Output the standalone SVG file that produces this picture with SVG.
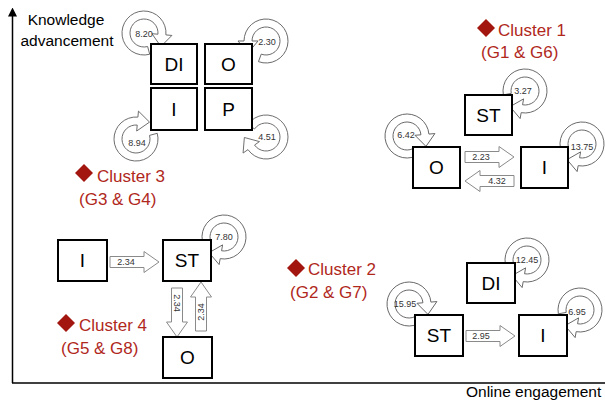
<svg xmlns="http://www.w3.org/2000/svg" xmlns:xlink="http://www.w3.org/1999/xlink" width="605" height="401" viewBox="0 0 605 401">
<style>
.box{fill:#fff;stroke:#000;stroke-width:2}
.bt{font-family:"Liberation Sans",Arial,sans-serif;font-size:19px;fill:#000;text-anchor:middle}
.loop{fill:#fff;stroke:#666;stroke-width:0.9}
.arr{fill:#fff;stroke:#8a8a8a;stroke-width:1}
.lt{font-family:"Liberation Sans",Arial,sans-serif;font-size:9px;fill:#333;text-anchor:middle}
.cl{font-family:"Liberation Sans",Arial,sans-serif;font-size:17px;fill:#b0281c}
.dia{fill:#a3150f}
.ax{font-family:"Liberation Sans",Arial,sans-serif;font-size:15.5px;fill:#000}
</style>
<defs>
<path id="loop" d="M-11,19.05 A22,22 0 1,1 14.14,16.85 L18,21.45 L2.38,21.5 L5.14,6.13 L9,10.72 A14,14 0 1,0 -7,12.12 Z"/>
<path id="barrow" d="M0,-5.5 H34 V-10.5 L49,0 L34,10.5 V5.5 H0 Z"/>
<path id="dia" d="M0,-9 L9,0 L0,9 L-9,0 Z"/>
<marker id="ah" viewBox="0 0 10 10" refX="5" refY="5" markerWidth="6" markerHeight="6" orient="auto-start-reverse">
<path d="M0,0 L10,5 L0,10 Z" fill="#000"/>
</marker>
</defs>
<rect width="605" height="401" fill="#fff"/>
<g id="axes">
<line x1="12.5" y1="383" x2="12.5" y2="12" stroke="#000" stroke-width="1.5" marker-end="url(#ah)"/>
<line x1="12" y1="383" x2="605" y2="383" stroke="#000" stroke-width="1.5"/>
<text class="ax" x="66" y="25" text-anchor="middle">Knowledge</text>
<text class="ax" x="67" y="46" text-anchor="middle">advancement</text>
<text class="ax" x="466" y="397">Online engagement</text>
</g>
<g id="connectors">
<use xlink:href="#loop" class="loop" transform="translate(144,33) rotate(-45)"/>
<use xlink:href="#loop" class="loop" transform="translate(266,41) rotate(50) scale(-1,1)"/>
<use xlink:href="#loop" class="loop" transform="translate(136,139) rotate(-135)"/>
<use xlink:href="#loop" class="loop" transform="translate(266,137) rotate(95)"/>
<use xlink:href="#loop" class="loop" transform="translate(525,91) rotate(50)"/>
<use xlink:href="#loop" class="loop" transform="translate(407,136) rotate(-55)"/>
<use xlink:href="#loop" class="loop" transform="translate(582,144) rotate(50)"/>
<use xlink:href="#loop" class="loop" transform="translate(224,237) rotate(50)"/>
<use xlink:href="#loop" class="loop" transform="translate(527,260) rotate(50)"/>
<use xlink:href="#loop" class="loop" transform="translate(409,304) rotate(-55)"/>
<use xlink:href="#loop" class="loop" transform="translate(580,310) rotate(50)"/>
<text class="lt" x="144" y="37">8.20</text>
<text class="lt" x="267" y="45">2.30</text>
<text class="lt" x="137" y="146">8.94</text>
<text class="lt" x="267" y="140">4.51</text>
<text class="lt" x="523" y="94">3.27</text>
<text class="lt" x="406" y="138">6.42</text>
<text class="lt" x="582" y="150">13.75</text>
<text class="lt" x="224" y="240">7.80</text>
<text class="lt" x="527" y="263">12.45</text>
<text class="lt" x="405" y="307">15.95</text>
<text class="lt" x="577" y="315">6.95</text>
<use xlink:href="#barrow" class="arr" transform="translate(465,157)"/>
<text class="lt" x="481" y="160">2.23</text>
<use xlink:href="#barrow" class="arr" transform="translate(514,181) rotate(180)"/>
<text class="lt" x="497" y="184">4.32</text>
<use xlink:href="#barrow" class="arr" transform="translate(466,336)"/>
<text class="lt" x="481" y="339">2.95</text>
<use xlink:href="#barrow" class="arr" transform="translate(110,262)"/>
<text class="lt" x="126" y="265">2.34</text>
<use xlink:href="#barrow" class="arr" transform="translate(177,288) rotate(90)"/>
<text class="lt" transform="translate(177,303) rotate(90)" y="3">2.34</text>
<use xlink:href="#barrow" class="arr" transform="translate(201,331) rotate(-90)"/>
<text class="lt" transform="translate(201,312) rotate(-90)" y="3">2.34</text>
</g>
<g id="cluster3">
<use xlink:href="#dia" class="dia" transform="translate(84,173)"/>
<text class="cl" x="97" y="182">Cluster 3</text>
<text class="cl" x="79" y="205">(G3 &amp; G4)</text>
<g id="c3-DI"><rect class="box" x="151" y="44" width="46" height="40"/><text class="bt" x="174" y="71">DI</text></g>
<g id="c3-O"><rect class="box" x="205" y="44" width="47" height="40"/><text class="bt" x="228.5" y="71">O</text></g>
<g id="c3-I"><rect class="box" x="151" y="88" width="46" height="42"/><text class="bt" x="174" y="116">I</text></g>
<g id="c3-P"><rect class="box" x="205" y="88" width="47" height="42"/><text class="bt" x="228.5" y="116">P</text></g>
</g>
<g id="cluster1">
<use xlink:href="#dia" class="dia" transform="translate(486,28)"/>
<text class="cl" x="498" y="36">Cluster 1</text>
<text class="cl" x="481" y="58">(G1 &amp; G6)</text>
<g id="c1-ST"><rect class="box" x="465" y="95" width="47" height="40"/><text class="bt" x="488.5" y="122">ST</text></g>
<g id="c1-O"><rect class="box" x="413" y="147" width="47" height="41"/><text class="bt" x="436.5" y="174">O</text></g>
<g id="c1-I"><rect class="box" x="521" y="147" width="47" height="41"/><text class="bt" x="544.5" y="174">I</text></g>
</g>
<g id="cluster2">
<use xlink:href="#dia" class="dia" transform="translate(296,268)"/>
<text class="cl" x="308" y="275">Cluster 2</text>
<text class="cl" x="290" y="298">(G2 &amp; G7)</text>
<g id="c2-DI"><rect class="box" x="467" y="263" width="48" height="40"/><text class="bt" x="491" y="290">DI</text></g>
<g id="c2-ST"><rect class="box" x="415" y="315" width="48" height="41"/><text class="bt" x="439" y="342">ST</text></g>
<g id="c2-I"><rect class="box" x="519" y="315" width="48" height="41"/><text class="bt" x="543" y="342">I</text></g>
</g>
<g id="cluster4">
<use xlink:href="#dia" class="dia" transform="translate(66,323)"/>
<text class="cl" x="79" y="331">Cluster 4</text>
<text class="cl" x="61" y="354">(G5 &amp; G8)</text>
<g id="c4-I"><rect class="box" x="58" y="240" width="49" height="41"/><text class="bt" x="82.5" y="267">I</text></g>
<g id="c4-ST"><rect class="box" x="163" y="240" width="48" height="41"/><text class="bt" x="187" y="267">ST</text></g>
<g id="c4-O"><rect class="box" x="163" y="337" width="49" height="41"/><text class="bt" x="187.5" y="364">O</text></g>
</g>
</svg>
